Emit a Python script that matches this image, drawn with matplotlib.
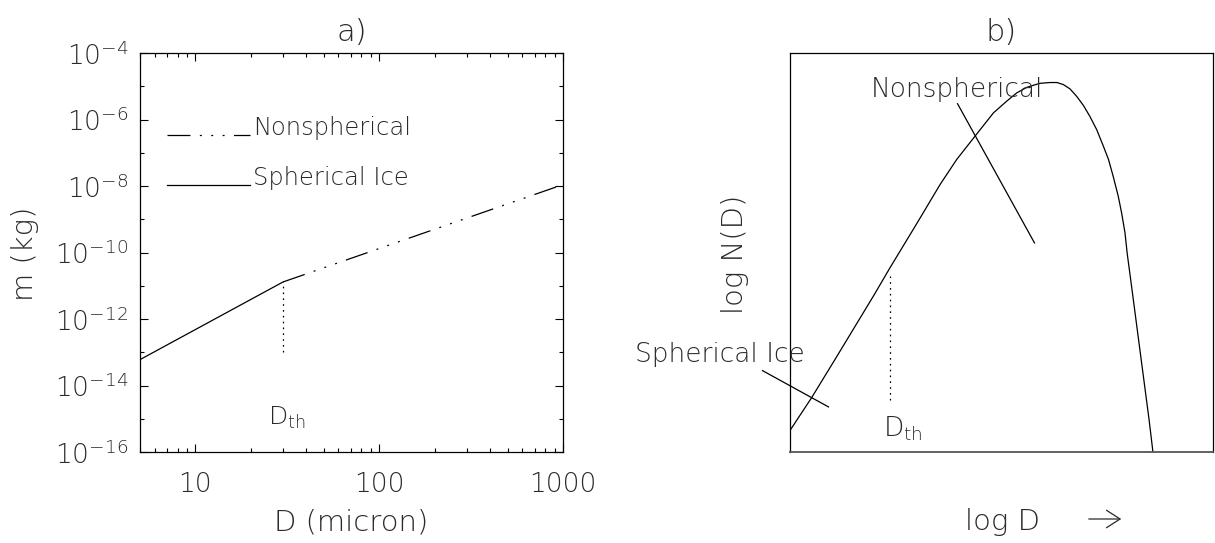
import matplotlib
matplotlib.use("Agg")
import matplotlib.pyplot as plt
from matplotlib.ticker import FixedLocator, FixedFormatter, NullFormatter

plt.rcParams["font.family"] = ["DejaVu Sans"]
plt.rcParams["font.weight"] = "light"
plt.rcParams["axes.titleweight"] = "light"
plt.rcParams["lines.scale_dashes"] = False

W, H = 1215, 543
TXT = "#2a2a2a"

# ---- panel a: mass-diameter relation ----
d_spherical = [5, 30]                 # micron
m_spherical = [6.0e-14, 1.3e-11]      # kg
d_nonspherical = [30, 1000]
m_nonspherical = [1.3e-11, 1.1e-8]
d_threshold = 30
m_threshold_span = [1.0e-13, 1.3e-11]

xticks_a = [10, 100, 1000]
xtick_labels_a = ["10", "100", "1000"]
ytick_exponents = [-16, -14, -12, -10, -8, -6, -4]
ytick_minor_exponents = [-15, -13, -11, -9, -7, -5]
ytick_labels_a = [r"$10^{%d}$" % e for e in ytick_exponents]

# ---- panel b: schematic size distribution (unit axes) ----
logd_b = [0.000, 0.051, 0.107, 0.199, 0.2365, 0.300, 0.3546, 0.394, 0.437,
          0.481, 0.512, 0.536, 0.560, 0.575, 0.591, 0.615, 0.631, 0.646,
          0.662, 0.678, 0.694, 0.709, 0.725, 0.741, 0.753, 0.764, 0.776,
          0.784, 0.792, 0.797, 0.810, 0.823, 0.836, 0.849, 0.858]
logn_b = [0.054, 0.136, 0.233, 0.394, 0.462, 0.573, 0.670, 0.733, 0.791,
          0.850, 0.879, 0.900, 0.914, 0.919, 0.924, 0.926, 0.926, 0.921,
          0.910, 0.891, 0.868, 0.841, 0.808, 0.766, 0.733, 0.691, 0.641,
          0.599, 0.549, 0.499, 0.395, 0.290, 0.185, 0.080, 0.000]
logd_threshold_b = 0.2365
logn_threshold_span_b = [0.130, 0.442]

nonsph_style = (0, (16.5, 6.8, 1.4, 6.8, 1.4, 6.8, 1.4, 6.8))
dot_style = (0, (1.2, 3.0))
LW = 0.9


def box(l, t, r, b):
    return [l / W, 1 - b / H, (r - l) / W, (b - t) / H]


def fx(x):
    return x / W


def fy(y):
    return 1 - y / H


fig = plt.figure(figsize=(W / 100, H / 100), dpi=100)
axa = fig.add_axes(box(140, 53, 563, 452))
axb = fig.add_axes(box(790, 53, 1213, 452))

# panel a
axa.set_xscale("log")
axa.set_yscale("log")
axa.plot(d_spherical, m_spherical, color="k", lw=LW)
axa.plot(d_nonspherical, m_nonspherical, color="k", lw=LW, linestyle=nonsph_style)
axa.plot([d_threshold, d_threshold], m_threshold_span, color="k", lw=LW,
         linestyle=dot_style)
axa.set_xlim(5, 1000)
axa.set_ylim(1e-16, 1e-4)

axa.xaxis.set_major_locator(FixedLocator(xticks_a))
axa.xaxis.set_major_formatter(FixedFormatter(xtick_labels_a))
minor_x = [k * 10 ** p for p in range(0, 3) for k in range(2, 10)
           if 5 <= k * 10 ** p <= 1000 and k * 10 ** p not in xticks_a]
axa.xaxis.set_minor_locator(FixedLocator(minor_x))
axa.xaxis.set_minor_formatter(NullFormatter())
axa.yaxis.set_major_locator(FixedLocator([10.0 ** e for e in ytick_exponents]))
axa.yaxis.set_major_formatter(FixedFormatter(ytick_labels_a))
axa.yaxis.set_minor_locator(FixedLocator([10.0 ** e for e in ytick_minor_exponents]))
axa.yaxis.set_minor_formatter(NullFormatter())

axa.tick_params(which="both", direction="in", top=True, right=True,
                width=0.8, labelsize=19, labelcolor=TXT)
axa.tick_params(which="major", length=6.0)
axa.tick_params(which="minor", length=3.0)
axa.tick_params(axis="x", which="both", pad=14.5)
axa.tick_params(axis="y", which="both", pad=8.5)
for s in axa.spines.values():
    s.set_linewidth(0.9)

axa.set_title("a)", fontsize=22, pad=8.5, color=TXT)

# legend drawn by hand
axa.plot([0.063, 0.260], [0.794, 0.794], transform=axa.transAxes, color="k",
         lw=LW, linestyle=nonsph_style)
axa.text(0.267, 0.794, "Nonspherical", transform=axa.transAxes, fontsize=17.5,
         ha="left", va="baseline", color=TXT)
axa.plot([0.063, 0.260], [0.669, 0.669], transform=axa.transAxes, color="k",
         lw=LW)
axa.text(0.267, 0.669, "Spherical Ice", transform=axa.transAxes, fontsize=17.5,
         ha="left", va="baseline", color=TXT)
axa.text(0.303, 0.068, r"D$_{\mathrm{th}}$", transform=axa.transAxes,
         fontsize=18, ha="left", va="baseline", color=TXT)

# panel b
axb.plot(logd_b, logn_b, color="k", lw=LW)
axb.plot([logd_threshold_b, logd_threshold_b], logn_threshold_span_b,
         color="k", lw=LW, linestyle=dot_style)
axb.set_xlim(0, 1)
axb.set_ylim(0, 1)
axb.set_xticks([])
axb.set_yticks([])
for s in axb.spines.values():
    s.set_linewidth(0.9)
axb.spines["bottom"].set_linewidth(1.3)
axb.spines["bottom"].set_color("#555555")
axb.set_title("b)", fontsize=22, pad=8.5, color=TXT)

axb.text(0.190, 0.889, "Nonspherical", fontsize=19, ha="left", va="baseline",
         color=TXT)
axb.plot([0.396, 0.578], [0.873, 0.524], color="k", lw=LW)
axb.text(-0.366, 0.2255, "Spherical Ice", fontsize=19, ha="left",
         va="baseline", color=TXT, clip_on=False)
axb.plot([-0.065, 0.091], [0.204, 0.113], color="k", lw=LW, clip_on=False)
axb.text(0.2199, 0.0376, r"D$_{\mathrm{th}}$", fontsize=19, ha="left",
         va="baseline", color=TXT)

# axis titles
fig.text(fx(25), fy(254), "m (kg)", rotation=90, ha="center", va="center",
         fontsize=21, color=TXT)
fig.text(fx(351.5), fy(530), "D (micron)", ha="center", va="baseline",
         fontsize=21, color=TXT)
fig.text(fx(735), fy(254), "log N(D)", rotation=90, ha="center", va="center",
         fontsize=21, color=TXT)
fig.text(fx(965), fy(530), "log D", ha="left", va="baseline", fontsize=21,
         color=TXT)
fig.add_artist(matplotlib.patches.FancyArrowPatch(
    (fx(1086), fy(519)), (fx(1124), fy(519)), transform=fig.transFigure,
    arrowstyle="->,head_length=0.7,head_width=0.45", mutation_scale=14,
    lw=0.9, color=TXT))

fig.savefig("out.png", dpi=100)
